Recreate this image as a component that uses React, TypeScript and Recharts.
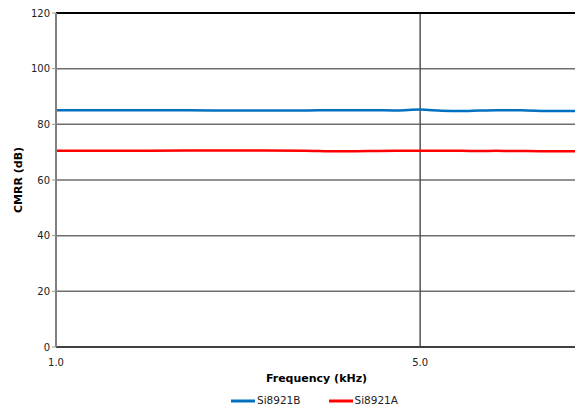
import {
  LineChart,
  Line,
  XAxis,
  YAxis,
  CartesianGrid,
  Legend,
  ReferenceLine,
} from "recharts";

// Frequency in kHz (log axis)
const freqs = [1, 1.5, 2, 2.5, 3, 3.5, 4, 4.5, 5, 5.5, 6, 6.5, 7, 7.5, 8, 9, 10];
const si8921B = [85.1, 85.1, 85.0, 85.0, 85.0, 85.1, 85.1, 85.0, 85.3, 84.9, 84.8, 85.0, 85.1, 85.1, 85.0, 84.8, 84.8];
const si8921A = [70.5, 70.5, 70.6, 70.6, 70.5, 70.3, 70.4, 70.5, 70.5, 70.5, 70.5, 70.4, 70.5, 70.4, 70.4, 70.3, 70.3];
const xTicks = [1, 5];
const yTicks = [0, 20, 40, 60, 80, 100, 120];
const legendOrder = ["Si8921B", "Si8921A"];

const data = freqs.map((f, i) => ({ f, b: si8921B[i], a: si8921A[i] }));

const font = "'DejaVu Sans', Verdana, sans-serif";

const App = () => {
  return (
    <div style={{ position: "absolute", left: 0, top: 0, fontFamily: font }}>
      <LineChart
        width={577}
        height={410}
        data={data}
        margin={{ top: 13, right: 0, left: 0, bottom: 0 }}
      >
        <CartesianGrid vertical={false} stroke="#6e6e6e" strokeWidth={1.5} />
        <XAxis
          dataKey="f"
          type="number"
          scale="log"
          domain={[1, 10]}
          ticks={xTicks}
          tickFormatter={(v: number) => v.toFixed(1)}
          tickLine={false}
          axisLine={{ stroke: "#404040", strokeWidth: 2 }}
          tick={{ fill: "#222", fontSize: 10, fontFamily: font, dy: 4 }}
          height={39}
          label={{
            value: "Frequency (kHz)",
            position: "insideBottom",
            offset: 4,
            fill: "#000",
            fontSize: 11,
            fontWeight: "bold",
            fontFamily: font,
          }}
        />
        <YAxis
          type="number"
          domain={[0, 120]}
          ticks={yTicks}
          width={56}
          tickSize={4}
          tickLine={{ stroke: "#999" }}
          axisLine={{ stroke: "#808080", strokeWidth: 2 }}
          tick={{ fill: "#222", fontSize: 10, fontFamily: font }}
          label={{
            value: "CMRR (dB)",
            angle: -90,
            position: "insideLeft",
            offset: 18,
            fill: "#000",
            fontSize: 11,
            fontWeight: "bold",
            fontFamily: font,
            style: { textAnchor: "middle" },
          }}
        />
        <ReferenceLine x={5} stroke="#555" strokeWidth={1.5} />
        <ReferenceLine y={120} stroke="#000" strokeWidth={2} />
        <Legend
          verticalAlign="bottom"
          align="center"
          iconType="plainline"
          iconSize={24}
          itemSorter={(item: any) => legendOrder.indexOf(item.value)}
          formatter={(value: string) => (
            <span style={{ color: "#222", marginRight: 18, marginLeft: -2 }}>{value}</span>
          )}
          wrapperStyle={{ fontSize: 10.5, fontFamily: font, paddingLeft: 40, bottom: -3 }}
        />
        <Line
          name="Si8921B"
          dataKey="b"
          stroke="#0070C0"
          strokeWidth={2.5}
          dot={false}
          type="monotone"
          isAnimationActive={false}
        />
        <Line
          name="Si8921A"
          dataKey="a"
          stroke="#FF0000"
          strokeWidth={2.5}
          dot={false}
          type="monotone"
          isAnimationActive={false}
        />
      </LineChart>
    </div>
  );
};

export default App;
